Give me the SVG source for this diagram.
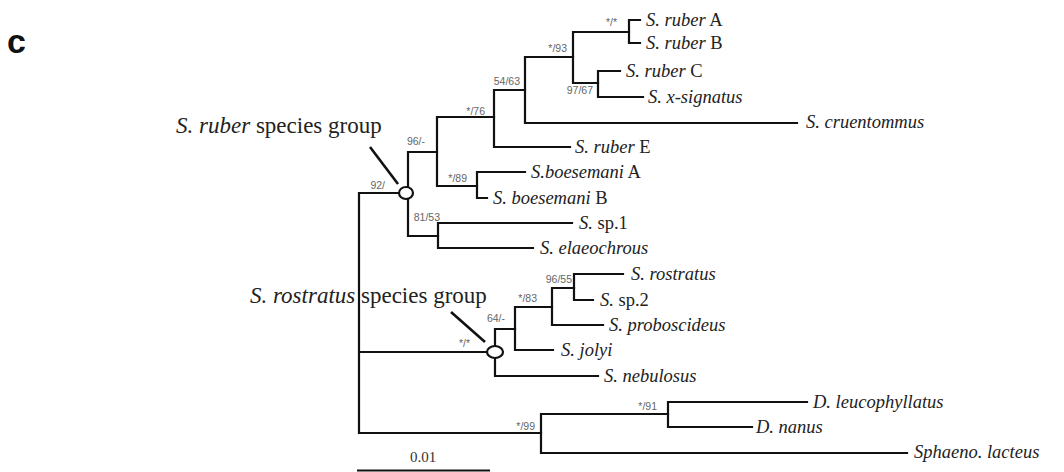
<svg xmlns="http://www.w3.org/2000/svg" width="1064" height="472" viewBox="0 0 1064 472">
  <style>
    .br { fill: none; stroke: #111; stroke-width: 2.2; stroke-linecap: square; }
    .lead { stroke: #111; stroke-width: 2.6; }
    .node { fill: #fff; stroke: #111; stroke-width: 2.2; }
    .leaf { font-family: "Liberation Serif", serif; font-size: 18.5px; fill: #222; }
    .it { font-style: italic; }
    .bs { font-family: "Liberation Sans", Arial, sans-serif; font-size: 10.5px; fill: #666; text-anchor: end; }
    .grp { font-family: "Liberation Serif", serif; font-size: 23px; fill: #222; }
    .panel { font-family: "Liberation Sans", Arial, sans-serif; font-size: 34px; font-weight: bold; fill: #111; }
    .scale { font-family: "Liberation Serif", serif; font-size: 15px; fill: #333; text-anchor: middle; }
  </style>
  <rect width="1064" height="472" fill="#fff"/>

  <text class="panel" x="7" y="53">c</text>

  <!-- branches -->
  <g id="connectors">
    <!-- root -->
    <path class="br" d="M359,193 V433 M359,193 H400 M359,352 H488 M359,433 H541"/>
    <!-- S. ruber group -->
    <path class="br" d="M408,152 V236 M408,152 H437 M408,236 H438"/>
    <path class="br" d="M437,117 V186 M437,117 H494 M437,186 H477"/>
    <path class="br" d="M494,90 V147 M494,90 H525 M494,147 H570"/>
    <path class="br" d="M525,57 V123 M525,57 H573 M525,123 H797"/>
    <path class="br" d="M573,32 V83 M573,32 H629 M573,83 H598"/>
    <path class="br" d="M629,20 V43 M629,20 H640 M629,43 H640"/>
    <path class="br" d="M598,71 V97 M598,71 H620 M598,97 H643"/>
    <path class="br" d="M477,172 V198 M477,172 H525 M477,198 H487"/>
    <path class="br" d="M438,223 V248 M438,223 H572 M438,248 H533"/>
    <!-- S. rostratus group -->
    <path class="br" d="M495,329 V376 M495,329 H515 M495,376 H598"/>
    <path class="br" d="M515,307 V350 M515,307 H552 M515,350 H553"/>
    <path class="br" d="M552,288 V325 M552,288 H574 M552,325 H603"/>
    <path class="br" d="M574,274 V300 M574,274 H623 M574,300 H593"/>
    <!-- outgroups -->
    <path class="br" d="M541,414 V453 M541,414 H668 M541,453 H907"/>
    <path class="br" d="M668,402 V427 M668,402 H807 M668,427 H752"/>
    <!-- group pointers -->
    <line class="lead" x1="370" y1="147" x2="398" y2="184"/>
    <line class="lead" x1="451" y1="312" x2="485" y2="342"/>
    <!-- scale bar -->
    <line x1="357" y1="470.5" x2="490" y2="470.5" stroke="#111" stroke-width="2.2"/>
  </g>

  <!-- group nodes -->
  <g id="node-ruber-group">
    <ellipse class="node" cx="406" cy="193" rx="7" ry="6"/>
    <text class="grp" x="176" y="133"><tspan class="it">S. ruber</tspan> species group</text>
  </g>
  <g id="node-rostratus-group">
    <ellipse class="node" cx="495" cy="352" rx="8" ry="6"/>
    <text class="grp" x="250" y="303"><tspan class="it">S. rostratus</tspan> species group</text>
  </g>

  <!-- support values -->
  <g id="support">
    <text class="bs" x="617" y="26">*/*</text>
    <text class="bs" x="567" y="52">*/93</text>
    <text class="bs" x="520" y="85">54/63</text>
    <text class="bs" x="593" y="94">97/67</text>
    <text class="bs" x="485" y="115">*/76</text>
    <text class="bs" x="425" y="145">96/-</text>
    <text class="bs" x="467" y="182">*/89</text>
    <text class="bs" x="385" y="189">92/</text>
    <text class="bs" x="440" y="221">81/53</text>
    <text class="bs" x="572" y="283">96/55</text>
    <text class="bs" x="537" y="302">*/83</text>
    <text class="bs" x="505" y="322">64/-</text>
    <text class="bs" x="470" y="347">*/*</text>
    <text class="bs" x="657" y="410">*/91</text>
    <text class="bs" x="535" y="430">*/99</text>
  </g>

  <!-- terminal taxa -->
  <g id="taxa">
    <g id="t-ruber-a"><text class="leaf" x="646" y="26"><tspan class="it">S. ruber</tspan> A</text></g>
    <g id="t-ruber-b"><text class="leaf" x="646" y="49"><tspan class="it">S. ruber</tspan> B</text></g>
    <g id="t-ruber-c"><text class="leaf" x="626" y="77"><tspan class="it">S. ruber</tspan> C</text></g>
    <g id="t-x-signatus"><text class="leaf it" x="648" y="103">S. x-signatus</text></g>
    <g id="t-cruentommus"><text class="leaf it" x="806" y="128">S. cruentommus</text></g>
    <g id="t-ruber-e"><text class="leaf" x="575" y="153"><tspan class="it">S. ruber</tspan> E</text></g>
    <g id="t-boesemani-a"><text class="leaf" x="531" y="178"><tspan class="it">S.boesemani</tspan> A</text></g>
    <g id="t-boesemani-b"><text class="leaf" x="493" y="204"><tspan class="it">S. boesemani</tspan> B</text></g>
    <g id="t-sp1"><text class="leaf" x="579" y="229"><tspan class="it">S.</tspan> sp.1</text></g>
    <g id="t-elaeochrous"><text class="leaf it" x="540" y="254">S. elaeochrous</text></g>
    <g id="t-rostratus"><text class="leaf it" x="631" y="280">S. rostratus</text></g>
    <g id="t-sp2"><text class="leaf" x="600" y="306"><tspan class="it">S.</tspan> sp.2</text></g>
    <g id="t-proboscideus"><text class="leaf it" x="609" y="331">S. proboscideus</text></g>
    <g id="t-jolyi"><text class="leaf it" x="561" y="356">S. jolyi</text></g>
    <g id="t-nebulosus"><text class="leaf it" x="604" y="382">S. nebulosus</text></g>
    <g id="t-leucophyllatus"><text class="leaf it" x="813" y="408">D. leucophyllatus</text></g>
    <g id="t-nanus"><text class="leaf it" x="756" y="433">D. nanus</text></g>
    <g id="t-lacteus"><text class="leaf it" x="914" y="458">Sphaeno. lacteus</text></g>
  </g>

  <text class="scale" x="423" y="462">0.01</text>
</svg>
